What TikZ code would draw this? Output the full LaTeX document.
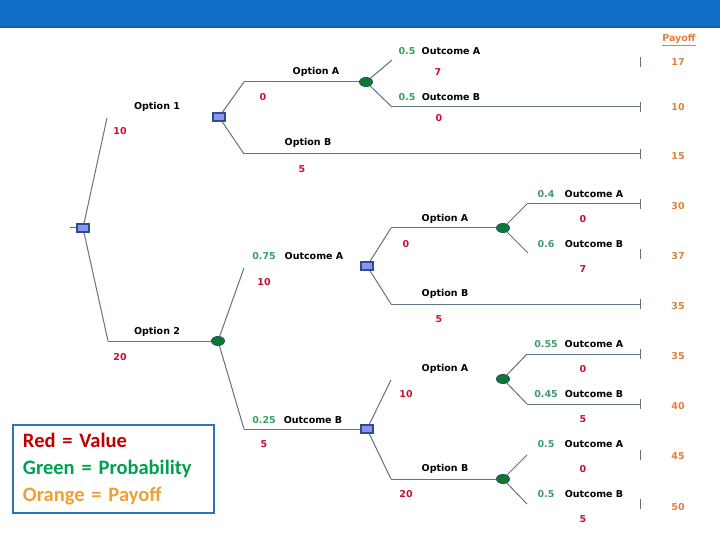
\documentclass[tikz,border=0pt]{standalone}
\usepackage{fontspec}
\usepackage{xcolor}
\usetikzlibrary{calc}
\usetikzlibrary{shapes.geometric}
\setmainfont{DejaVu Sans}
\newfontfamily\keyfont{Carlito}
\definecolor{dHead}{HTML}{0F6FC6}
\definecolor{dHeadEdge}{HTML}{1B5FA3}
\definecolor{dLine}{HTML}{5E7386}
\definecolor{dSquare}{HTML}{8C93F2}
\definecolor{dSquareEdge}{HTML}{2F4C8C}
\definecolor{dChance}{HTML}{0B7A2E}
\definecolor{dChanceEdge}{HTML}{2C5570}
\definecolor{dRed}{HTML}{C8102E}
\definecolor{dGreen}{HTML}{3A9E66}
\definecolor{dOrange}{HTML}{E07F3E}
\definecolor{kRed}{HTML}{C00000}
\definecolor{kGreen}{HTML}{00A050}
\definecolor{kOrange}{HTML}{F0A030}
\definecolor{kBlue}{HTML}{2E72B8}
\tikzset{
    decision/.style={
            rectangle,
            draw={dSquareEdge},
            fill={dSquare},
            line width=1.6pt,
            inner sep=0pt, % no padding
            minimum width=12pt,
            minimum height=8pt
        },
    chance/.style={
            ellipse,
            draw={dChanceEdge},
            fill={dChance},
            line width=1pt,
            inner sep=0pt,
            minimum width=13pt,
            minimum height=9pt
        },
}
\tikzset{
    branch/.style={
            line width=1pt,
            {#1}
        },
    branch/.default={dLine},
    txt/.style={
            font=\fontsize{9.5}{11}\selectfont\bfseries,
            inner sep=0pt,
            text={#1}
        },
    txt/.default={black},
    keybox/.style={
            draw={kBlue},
            line width=2pt,
            anchor=north west,
            minimum width=201pt,
            minimum height=88pt,
            text width=181pt,
            inner xsep=10pt,
            align=left,
            font=\keyfont\fontsize{20.5}{27}\selectfont\bfseries
        }
}
\newcommand{\treecoord}{%
    \coordinate (entry) at (70,228);
    \coordinate (k1) at (107,118);
    \coordinate (k2) at (108,341);
    %
    \coordinate (k1A) at (244,82);
    \coordinate (k1B) at (244,154);
    \coordinate (k1a) at (392,60);
    \coordinate (k1b) at (392,107);
    %
    \coordinate (k2A) at (244,268);
    \coordinate (k2B) at (244,429);
    \coordinate (kAA) at (391,228);
    \coordinate (kAB) at (391,304);
    \coordinate (kAAa) at (527,204);
    \coordinate (kAAb) at (528,253);
    \coordinate (kBA) at (391,380);
    \coordinate (kBB) at (391,479);
    \coordinate (kBAa) at (527,354);
    \coordinate (kBAb) at (527,404);
    \coordinate (kBBa) at (527,455);
    \coordinate (kBBb) at (527,504);
}
\newcommand{\tickcoord}{%
    \coordinate (t1) at (640,62);
    \coordinate (t2) at (640,107);
    \coordinate (t3) at (640,154);
    \coordinate (t4) at (640,204);
    \coordinate (t5) at (640,254);
    \coordinate (t6) at (640,304);
    \coordinate (t7) at (640,354);
    \coordinate (t8) at (640,404);
    \coordinate (t9) at (640,455);
    \coordinate (t10) at (640,504);
}
\begin{document}
\begin{tikzpicture}[
        x=1pt,
        y=-1pt,
    ]
    \useasboundingbox (0,0) rectangle (720,540);
    % title band
    \fill[dHead] (0,0) rectangle (720,27);
    \fill[dHeadEdge] (0,26) rectangle (720,28);
    \treecoord
    \tickcoord
    % decision and chance points
    \node[decision] (root) at (83,228) {};
    \node[decision] (d1) at (219,117) {};
    \node[decision] (d2) at (367,266) {};
    \node[decision] (d3) at (367,429) {};
    \node[chance] (c1) at (366,82) {};
    \node[chance] (c2) at (218,341) {};
    \node[chance] (c3) at (503,228) {};
    \node[chance] (c4) at (503,379) {};
    \node[chance] (c5) at (503,479) {};
    % branches
    \path[branch]
    (entry) edge (root)
    (root) edge (k1)
    (root) edge (k2)
    (k2) edge (c2)
    (d1) edge (k1A)
    (k1A) edge (c1)
    (d1) edge (k1B)
    (k1B) edge (t3)
    (c1) edge (k1a)
    (c1) edge (k1b)
    (k1b) edge (t2)
    (c2) edge (k2A)
    (c2) edge (k2B)
    (k2B) edge (d3)
    (d2) edge (kAA)
    (kAA) edge (c3)
    (d2) edge (kAB)
    (kAB) edge (t6)
    (c3) edge (kAAa)
    (kAAa) edge (t4)
    (c3) edge (kAAb)
    (d3) edge (kBA)
    (d3) edge (kBB)
    (kBB) edge (c5)
    (c4) edge (kBAa)
    (kBAa) edge (t7)
    (c4) edge (kBAb)
    (kBAb) edge (t8)
    (c5) edge (kBBa)
    (c5) edge (kBBb);
    % end ticks
    \path[branch]
    ($(t1)+(0,-5)$) edge ($(t1)+(0,5)$)
    ($(t2)+(0,-5)$) edge ($(t2)+(0,5)$)
    ($(t3)+(0,-5)$) edge ($(t3)+(0,5)$)
    ($(t4)+(0,-5)$) edge ($(t4)+(0,5)$)
    ($(t5)+(0,-5)$) edge ($(t5)+(0,5)$)
    ($(t6)+(0,-5)$) edge ($(t6)+(0,5)$)
    ($(t7)+(0,-5)$) edge ($(t7)+(0,5)$)
    ($(t8)+(0,-5)$) edge ($(t8)+(0,5)$)
    ($(t9)+(0,-5)$) edge ($(t9)+(0,5)$)
    ($(t10)+(0,-5)$) edge ($(t10)+(0,5)$);
    % first choice
    \node[txt] (opt1) at (157,107) {Option 1};
    \node[txt=dRed] (v1) at (120,131) {10};
    \node[txt] (opt2) at (157,332) {Option 2};
    \node[txt=dRed] (v2) at (120,357) {20};
    % option 1
    \node[txt] (opt1A) at (316,72) {Option A};
    \node[txt=dRed] (v1A) at (263,97) {0};
    \node[txt] (opt1B) at (308,143) {Option B};
    \node[txt=dRed] (v1B) at (302,169) {5};
    \node[txt=dGreen] (p1a) at (407,51) {0.5};
    \node[txt] (o1a) at (451,51) {Outcome A};
    \node[txt=dRed] (v1a) at (438,72) {7};
    \node[txt=dGreen] (p1b) at (407,97) {0.5};
    \node[txt] (o1b) at (451,97) {Outcome B};
    \node[txt=dRed] (v1b) at (439,118) {0};
    % option 2
    \node[txt=dGreen] (p2a) at (264,256) {0.75};
    \node[txt] (o2a) at (314,256) {Outcome A};
    \node[txt=dRed] (v2a) at (264,282) {10};
    \node[txt=dGreen] (p2b) at (264,420) {0.25};
    \node[txt] (o2b) at (313,420) {Outcome B};
    \node[txt=dRed] (v2b) at (264,444) {5};
    % option 2, outcome A
    \node[txt] (optAA) at (445,219) {Option A};
    \node[txt=dRed] (vAA) at (406,244) {0};
    \node[txt] (optAB) at (445,294) {Option B};
    \node[txt=dRed] (vAB) at (439,319) {5};
    \node[txt=dGreen] (pAAa) at (546,194) {0.4};
    \node[txt] (oAAa) at (594,194) {Outcome A};
    \node[txt=dRed] (vAAa) at (583,219) {0};
    \node[txt=dGreen] (pAAb) at (546,244) {0.6};
    \node[txt] (oAAb) at (594,244) {Outcome B};
    \node[txt=dRed] (vAAb) at (583,269) {7};
    % option 2, outcome B
    \node[txt] (optBA) at (445,369) {Option A};
    \node[txt=dRed] (vBA) at (406,394) {10};
    \node[txt] (optBB) at (445,469) {Option B};
    \node[txt=dRed] (vBB) at (406,494) {20};
    \node[txt=dGreen] (pBAa) at (546,344) {0.55};
    \node[txt] (oBAa) at (594,344) {Outcome A};
    \node[txt=dRed] (vBAa) at (583,369) {0};
    \node[txt=dGreen] (pBAb) at (546,394) {0.45};
    \node[txt] (oBAb) at (594,394) {Outcome B};
    \node[txt=dRed] (vBAb) at (583,419) {5};
    \node[txt=dGreen] (pBBa) at (546,444) {0.5};
    \node[txt] (oBBa) at (594,444) {Outcome A};
    \node[txt=dRed] (vBBa) at (583,469) {0};
    \node[txt=dGreen] (pBBb) at (546,494) {0.5};
    \node[txt] (oBBb) at (594,494) {Outcome B};
    \node[txt=dRed] (vBBb) at (583,519) {5};
    % payoff column
    \node[txt=dOrange] (payoff) at (679,40) {\underline{Payoff}};
    \node[txt=dOrange] (pay1) at (678,62) {17};
    \node[txt=dOrange] (pay2) at (678,107) {10};
    \node[txt=dOrange] (pay3) at (678,156) {15};
    \node[txt=dOrange] (pay4) at (678,206) {30};
    \node[txt=dOrange] (pay5) at (678,256) {37};
    \node[txt=dOrange] (pay6) at (678,306) {35};
    \node[txt=dOrange] (pay7) at (678,356) {35};
    \node[txt=dOrange] (pay8) at (678,406) {40};
    \node[txt=dOrange] (pay9) at (678,456) {45};
    \node[txt=dOrange] (pay10) at (678,507) {50};
    % key
    \node[keybox] (legend) at (12,424) {%
        \textcolor{kRed}{Red = Value}\\
        \textcolor{kGreen}{Green = Probability}\\
        \textcolor{kOrange}{Orange = Payoff}};
\end{tikzpicture}
\end{document}
